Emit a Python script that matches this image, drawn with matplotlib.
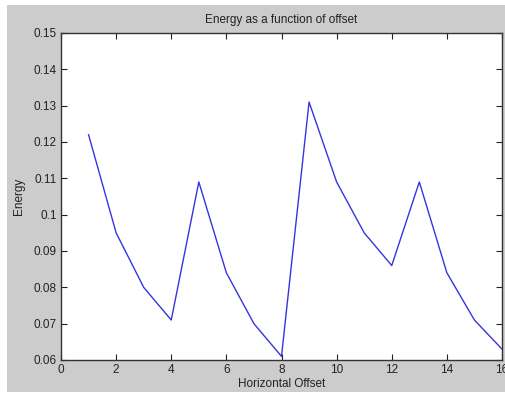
import matplotlib
matplotlib.use('Agg')
import matplotlib.pyplot as plt
from matplotlib.patches import Rectangle
from matplotlib.ticker import FormatStrFormatter

offset = list(range(1, 17))
energy = [0.122, 0.095, 0.080, 0.071, 0.109, 0.084, 0.070, 0.061,
          0.131, 0.109, 0.095, 0.086, 0.109, 0.084, 0.071, 0.063]
xticks = [0, 2, 4, 6, 8, 10, 12, 14, 16]
yticks = [0.06, 0.07, 0.08, 0.09, 0.1, 0.11, 0.12, 0.13, 0.14, 0.15]

plt.rcParams['font.family'] = ['Liberation Sans', 'DejaVu Sans']

fig = plt.figure(figsize=(5.05, 3.96), dpi=100, facecolor='white')
# grey matlab window area (screenshot crop leaves a white edge)
fig.patches.append(Rectangle((7/505, 4/396), 1 - 7/505, 387/396,
                             transform=fig.transFigure, facecolor='#cccccc',
                             edgecolor='none', zorder=-1))

ax = fig.add_axes([61/505, 36/396, 441/505, 327/396])
ax.set_facecolor('white')
ax.plot(offset, energy, color='#3535e0', linewidth=1.0)

ax.set_xlim(0, 16)
ax.set_ylim(0.06, 0.15)
ax.set_xticks(xticks)
ax.set_yticks(yticks)
ax.yaxis.set_major_formatter(FormatStrFormatter('%g'))
ax.tick_params(direction='in', length=4, width=0.8, top=True, right=True,
               labelsize=8.5, colors='#222222', pad=3)
for s in ax.spines.values():
    s.set_color('#333333')
    s.set_linewidth(1.0)

ax.set_title('Energy as a function of offset', fontsize=8.5, pad=7, color='#222222')
ax.set_xlabel('Horizontal Offset', fontsize=8.5, labelpad=1, color='#222222')
ax.set_ylabel('Energy', fontsize=8.5, labelpad=6, color='#222222')

fig.savefig('out.png', dpi=100, facecolor=fig.get_facecolor())
